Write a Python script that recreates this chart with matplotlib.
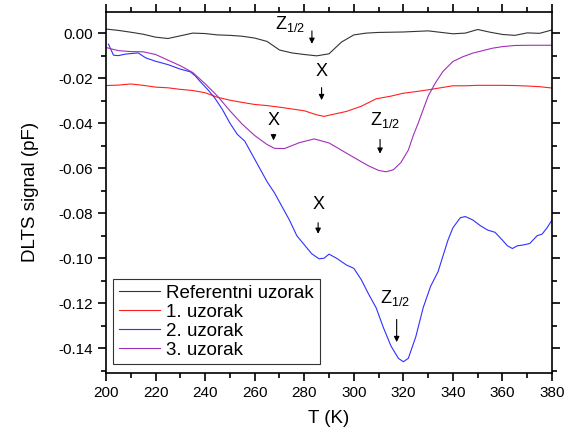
import matplotlib
matplotlib.use('Agg')
import matplotlib.pyplot as plt
from matplotlib.ticker import MultipleLocator

plt.rcParams['font.family'] = ['Liberation Sans', 'DejaVu Sans']
plt.rcParams['mathtext.fontset'] = 'custom'
plt.rcParams['mathtext.rm'] = 'Liberation Sans'

# Referentni uzorak
t_ref = [200, 205, 210, 215, 220, 225, 230, 235, 240, 245, 250, 255, 260, 265, 270, 275, 280,
         285, 290, 295, 300, 305, 310, 320, 330, 340, 345, 350, 355, 360, 365, 370, 375, 380]
s_ref = [0.0018, 0.0012, 0.0004, -0.0005, -0.0018, -0.0024, -0.0012, 0.0, -0.0002, -0.0008,
         -0.001, -0.0014, -0.0022, -0.0037, -0.0075, -0.0088, -0.0095, -0.0101, -0.0092, -0.004,
         -0.0008, 0.0, 0.0003, 0.0005, 0.001, -0.0003, 0.0, 0.0016, 0.0004, -0.0006, -0.001,
         0.0001, -0.0001, 0.0014]

# 1. uzorak
t_1 = [200, 205, 210, 215, 220, 225, 230, 235, 240, 245, 250, 255, 260, 265, 270, 275, 280,
       285, 288, 292, 297, 303, 309, 315, 320, 325, 330, 335, 340, 345, 350, 355, 360, 365,
       370, 375, 380]
s_1 = [-0.0233, -0.0231, -0.0226, -0.0232, -0.0240, -0.0243, -0.0250, -0.0255, -0.0265,
       -0.0285, -0.0298, -0.0308, -0.0317, -0.0322, -0.0329, -0.0337, -0.0345, -0.0363, -0.0370,
       -0.0360, -0.0348, -0.0325, -0.0292, -0.0280, -0.0267, -0.0260, -0.0252, -0.0243, -0.0234,
       -0.0234, -0.0232, -0.0232, -0.0232, -0.0233, -0.0235, -0.0238, -0.0244]

# 2. uzorak
t_2 = [201, 203, 205, 208, 213, 216, 220, 225, 230, 234, 236, 238, 241, 244, 247, 250, 253,
       256, 259, 262, 265, 268, 271, 274, 277, 280, 283, 286, 288, 290, 293, 297, 300, 303, 306,
       309, 312, 315, 318, 320, 322, 325, 328, 331, 334, 336, 338, 340, 343, 345, 348, 351, 354,
       357, 360, 362, 364, 366, 368, 371, 374, 376, 378, 380]
s_2 = [-0.0049, -0.0098, -0.0100, -0.0093, -0.0088, -0.0110, -0.0125, -0.0140, -0.0160,
       -0.0172, -0.0190, -0.0215, -0.0250, -0.0290, -0.0340, -0.0400, -0.0450, -0.0480, -0.0540,
       -0.0600, -0.0660, -0.0710, -0.0770, -0.0830, -0.0900, -0.0940, -0.0980, -0.1003, -0.1000,
       -0.0982, -0.1000, -0.1030, -0.1045, -0.1095, -0.1160, -0.1220, -0.1310, -0.1390, -0.1445,
       -0.1460, -0.1445, -0.1350, -0.1220, -0.1125, -0.1060, -0.0990, -0.0920, -0.0865, -0.0820,
       -0.0815, -0.0830, -0.0855, -0.0875, -0.0885, -0.0920, -0.0945, -0.0957, -0.0945, -0.0942,
       -0.0935, -0.0900, -0.0893, -0.0865, -0.0830]

# 3. uzorak
t_3 = [200, 205, 210, 215, 220, 225, 230, 235, 240, 245, 250, 255, 260, 265, 268, 272, 278,
       284, 290, 297, 302, 306, 310, 313, 316, 319, 322, 324, 326, 328, 330, 333, 336, 340, 344,
       348, 352, 356, 360, 365, 370, 375, 380]
s_3 = [-0.0064, -0.0078, -0.0082, -0.0083, -0.0095, -0.0120, -0.0145, -0.0175, -0.0225,
       -0.0280, -0.0345, -0.0405, -0.0455, -0.0495, -0.0512, -0.0513, -0.0487, -0.0470, -0.0488,
       -0.0533, -0.0565, -0.0590, -0.0610, -0.0616, -0.0607, -0.0575, -0.0520, -0.0455, -0.0400,
       -0.0340, -0.0280, -0.0220, -0.0170, -0.0126, -0.0105, -0.0089, -0.0078, -0.0067, -0.0060,
       -0.0055, -0.0054, -0.0054, -0.0054]

labels = ['Referentni uzorak', '1. uzorak', '2. uzorak', '3. uzorak']
colors = ['#333333', '#ff2020', '#3030ff', '#a030b8']

# peak labels: (text, text position, arrow tail, arrow tip)
peaks = [
    (r'Z$_{\mathregular{1/2}}$', (274.3, 0.0040), (283.1, 0.0022), (283.1, -0.0060)),
    ('X', (287.0, -0.0172), (287.0, -0.0230), (287.0, -0.0310)),
    ('X', (267.6, -0.0390), (267.6, -0.0437), (267.6, -0.0489)),
    (r'Z$_{\mathregular{1/2}}$', (312.6, -0.0385), (310.6, -0.0460), (310.6, -0.0548)),
    ('X', (285.6, -0.0763), (285.6, -0.0830), (285.6, -0.0904)),
    (r'Z$_{\mathregular{1/2}}$', (316.6, -0.1176), (317.3, -0.1260), (317.3, -0.1385)),
]

fig = plt.figure(figsize=(5.74, 4.34), dpi=100)
ax = fig.add_axes([0.1847, 0.1406, 0.7770, 0.8329])

for t, s, lab, c in zip([t_ref, t_1, t_2, t_3], [s_ref, s_1, s_2, s_3], labels, colors):
    ax.plot(t, s, color=c, lw=0.8, label=lab)

for txt, tp, tail, tip in peaks:
    ax.text(tp[0], tp[1], txt, fontsize=13, ha='center', va='center')
    ax.annotate('', xy=tip, xytext=tail,
                arrowprops=dict(arrowstyle='-|>', color='k', lw=0.8, mutation_scale=8))

ax.set_xlim(200, 380)
ax.set_ylim(-0.151, 0.0096)
ax.xaxis.set_major_locator(MultipleLocator(20))
ax.xaxis.set_minor_locator(MultipleLocator(10))
ax.yaxis.set_major_locator(MultipleLocator(0.02))
ax.yaxis.set_minor_locator(MultipleLocator(0.01))
ax.yaxis.set_major_formatter(matplotlib.ticker.FormatStrFormatter('%.2f'))
ax.tick_params(which='both', direction='out', top=True, right=True, labelsize=11, width=1.2)
ax.tick_params(which='major', length=6)
ax.tick_params(which='minor', length=3.5)
for sp in ax.spines.values():
    sp.set_linewidth(1.2)

ax.set_xlabel('T (K)', fontsize=13.5, labelpad=7)
ax.set_ylabel('DLTS signal (pF)', fontsize=13.5, labelpad=14)

leg = ax.legend(loc='lower left', bbox_to_anchor=(0.0157, 0.024), borderaxespad=0,
                fontsize=13.5, fancybox=False, framealpha=1, edgecolor='#333333',
                handlelength=2.2, handletextpad=0.35, labelspacing=0.1, borderpad=0.3)
leg.get_frame().set_linewidth(0.8)

fig.savefig('out.png', dpi=100)
